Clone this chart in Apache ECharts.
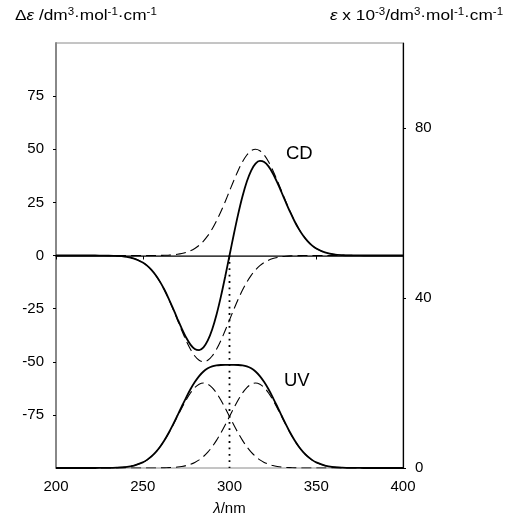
<!DOCTYPE html>
<html>
<head>
<meta charset="utf-8">
<script src="https://cdn.jsdelivr.net/npm/echarts@6/dist/echarts.min.js"></script>
<style>
html,body{margin:0;padding:0;background:#fff;}
#chart{width:509px;height:514px;}
</style>
</head>
<body>
<div id="chart"></div>
<script>
// wavelength (nm)
const lambda = [200,205,210,215,220,225,230,235,240,245,250,
  252.5,255,257.5,260,262.5,265,267.5,270,272.5,275,277.5,280,282.5,285,287.5,290,292.5,295,297.5,300,
  302.5,305,307.5,310,312.5,315,317.5,320,322.5,325,327.5,330,332.5,335,337.5,340,342.5,345,347.5,350,
  355,360,365,370,375,380,385,390,395,400];
// CD (left axis, Δε)
const cdSolid = [0,0,0,0,0,-0.02,-0.06,-0.19,-0.56,-1.43,-3.29,
  -4.77,-6.75,-9.29,-12.41,-16.13,-20.37,-24.99,-29.77,-34.42,-38.61,-41.93,-44.01,-44.53,-43.23,-39.99,-34.83,-27.89,-19.48,-10.01,0,
  10.01,19.48,27.89,34.83,39.99,43.23,44.53,44.01,41.93,38.61,34.42,29.77,24.99,20.37,16.13,12.41,9.29,6.75,4.77,3.29,
  1.43,0.56,0.19,0.06,0.02,0,0,0,0,0];
const cdPos = [0,0,0,0,0,0,0,0,0,0,0,
  0.01,0.02,0.03,0.06,0.11,0.19,0.33,0.56,0.91,1.43,2.20,3.29,4.78,6.77,9.32,12.47,16.24,20.56,25.32,30.33,
  35.33,40.04,44.13,47.30,49.31,50,49.31,47.30,44.13,40.04,35.33,30.33,25.32,20.56,16.24,12.47,9.32,6.77,4.78,3.29,
  1.43,0.56,0.19,0.06,0.02,0,0,0,0,0];
const cdNeg = [0,0,0,0,0,-0.02,-0.06,-0.19,-0.56,-1.43,-3.29,
  -4.78,-6.77,-9.32,-12.47,-16.24,-20.56,-25.32,-30.33,-35.33,-40.04,-44.13,-47.30,-49.31,-50,-49.31,-47.30,-44.13,-40.04,-35.33,-30.33,
  -25.32,-20.56,-16.24,-12.47,-9.32,-6.77,-4.78,-3.29,-2.20,-1.43,-0.91,-0.56,-0.33,-0.19,-0.11,-0.06,-0.03,-0.02,-0.01,0,
  0,0,0,0,0,0,0,0,0,0];
// UV (right axis, ε x 10^-3)
const uvSolid = [0,0,0,0,0,0.01,0.02,0.08,0.22,0.57,1.31,
  1.91,2.72,3.74,5.01,6.53,8.30,10.26,12.35,14.49,16.58,18.53,20.23,21.63,22.71,23.45,23.91,24.14,24.23,24.26,24.26,
  24.26,24.23,24.14,23.91,23.45,22.71,21.63,20.23,18.53,16.58,14.49,12.35,10.26,8.30,6.53,5.01,3.74,2.72,1.91,1.31,
  0.57,0.22,0.08,0.02,0.01,0,0,0,0,0];
const uvA = [0,0,0,0,0,0.01,0.02,0.08,0.22,0.57,1.31,
  1.91,2.71,3.73,4.99,6.49,8.22,10.13,12.13,14.13,16.01,17.65,18.92,19.72,20,19.72,18.92,17.65,16.01,14.13,12.13,
  10.13,8.22,6.49,4.99,3.73,2.71,1.91,1.31,0.88,0.57,0.36,0.22,0.13,0.08,0.04,0.02,0.01,0.01,0,0,
  0,0,0,0,0,0,0,0,0,0];
const uvB = [0,0,0,0,0,0,0,0,0,0,0,
  0,0.01,0.01,0.02,0.04,0.08,0.13,0.22,0.36,0.57,0.88,1.31,1.91,2.71,3.73,4.99,6.49,8.22,10.13,12.13,
  14.13,16.01,17.65,18.92,19.72,20,19.72,18.92,17.65,16.01,14.13,12.13,10.13,8.22,6.49,4.99,3.73,2.71,1.91,1.31,
  0.57,0.22,0.08,0.02,0.01,0,0,0,0,0];
// dotted vertical guide
const guideX = [300, 300];
const guideY = [0, -100];
// tick labels
const xTicks = [200, 250, 300, 350, 400];
const leftTicks = [-75, -50, -25, 0, 25, 50, 75];
const rightTicks = [0, 40, 80];

const zip = (xs, ys) => xs.map((x, i) => [x, ys[i]]);
const FONT = 'Liberation Sans, Arial, Helvetica, sans-serif';
const TICK_FS = 15;

const chart = echarts.init(document.getElementById('chart'), null, {renderer: 'canvas'});

const solid = {color: '#000', width: 1.8};
const dashed = {color: '#000', width: 1.1, type: [10, 5]};

const supStyle = {fontSize: 10, fontFamily: FONT, color: '#000', verticalAlign: 'top', lineHeight: 10};
const mainStyle = {fontSize: 15, fontFamily: FONT, color: '#000', lineHeight: 17};
const italStyle = Object.assign({}, mainStyle, {fontStyle: 'italic'});

chart.setOption({
  animation: false,
  backgroundColor: '#fff',
  grid: {left: 56, right: 106, top: 43, bottom: 46, containLabel: false, outerBoundsMode: 'none',
    show: true, borderColor: '#8a8a8a', borderWidth: 1, backgroundColor: 'transparent'},
  xAxis: {
    type: 'value', min: 200, max: 400, interval: 50,
    axisLine: {show: true, lineStyle: {color: '#000', width: 1.5}},
    axisTick: {show: true, length: 4, inside: false, lineStyle: {color: '#000', width: 1}, customValues: xTicks},
    axisLabel: {margin: 11, fontSize: TICK_FS, fontFamily: FONT, color: '#000', customValues: xTicks},
    splitLine: {show: false},
    name: '{l|λ}/nm', nameLocation: 'middle', nameGap: 33,
    nameTextStyle: {fontSize: TICK_FS, fontFamily: FONT, color: '#000', rich: {l: {fontSize: TICK_FS, fontFamily: FONT, fontStyle: 'italic', color: '#000'}}}
  },
  yAxis: [
    {
      type: 'value', min: -100, max: 100, interval: 25, position: 'left',
      axisLine: {show: true, lineStyle: {color: '#888', width: 2}},
      axisTick: {show: true, length: 3, lineStyle: {color: '#000', width: 1}, customValues: leftTicks},
      axisLabel: {margin: 12, fontSize: TICK_FS, fontFamily: FONT, color: '#000', customValues: leftTicks},
      splitLine: {show: false}
    },
    {
      type: 'value', min: 0, max: 100, interval: 40, position: 'right',
      axisLine: {show: true, lineStyle: {color: '#000', width: 1.2}},
      axisTick: {show: true, length: 3, lineStyle: {color: '#000', width: 1}, customValues: rightTicks},
      axisLabel: {margin: 12, fontSize: TICK_FS, fontFamily: FONT, color: '#000', customValues: rightTicks},
      splitLine: {show: false}
    }
  ],
  series: [
    {type: 'line', yAxisIndex: 0, data: zip(lambda, cdPos), showSymbol: false, smooth: 0.3, lineStyle: dashed, z: 3},
    {type: 'line', yAxisIndex: 0, data: zip(lambda, cdNeg), showSymbol: false, smooth: 0.3, lineStyle: dashed, z: 3},
    {type: 'line', yAxisIndex: 0, data: zip(lambda, cdSolid), showSymbol: false, smooth: 0.3, lineStyle: solid, z: 4,
      markLine: {silent: true, symbol: 'none', label: {show: false}, lineStyle: {color: '#777', width: 1, type: 'solid'}, data: [{yAxis: 0}], z: 2}},
    {type: 'line', yAxisIndex: 1, data: zip(lambda, uvA), showSymbol: false, smooth: 0.3, lineStyle: dashed, z: 3},
    {type: 'line', yAxisIndex: 1, data: zip(lambda, uvB), showSymbol: false, smooth: 0.3, lineStyle: dashed, z: 3},
    {type: 'line', yAxisIndex: 1, data: zip(lambda, uvSolid), showSymbol: false, smooth: 0.3, lineStyle: solid, z: 4},
    {type: 'line', yAxisIndex: 0, data: zip(guideX, guideY), showSymbol: false, lineStyle: {color: '#000', width: 1.8, type: [1.8, 4.6]}, z: 3}
  ],
  graphic: [
    {type: 'text', left: 15, top: 7, scaleX: 1.15, style: {
      text: '{a|Δ}{e|ε}{a| /dm}{s|3}{a|·mol}{s|-1}{a|·cm}{s|-1}',
      rich: {a: mainStyle, e: italStyle, s: supStyle}}},
    {type: 'text', left: 330, top: 7, scaleX: 1.15, style: {
      text: '{e|ε}{a| x 10}{s|-3}{a|/dm}{s|3}{a|·mol}{s|-1}{a|·cm}{s|-1}',
      rich: {a: mainStyle, e: italStyle, s: supStyle}}},
    {type: 'text', left: 286, top: 144, style: {text: 'CD', fontSize: 18.5, fontFamily: FONT, fill: '#000'}},
    {type: 'text', left: 284, top: 371, style: {text: 'UV', fontSize: 18.5, fontFamily: FONT, fill: '#000'}}
  ]
});
</script>
</body>
</html>
